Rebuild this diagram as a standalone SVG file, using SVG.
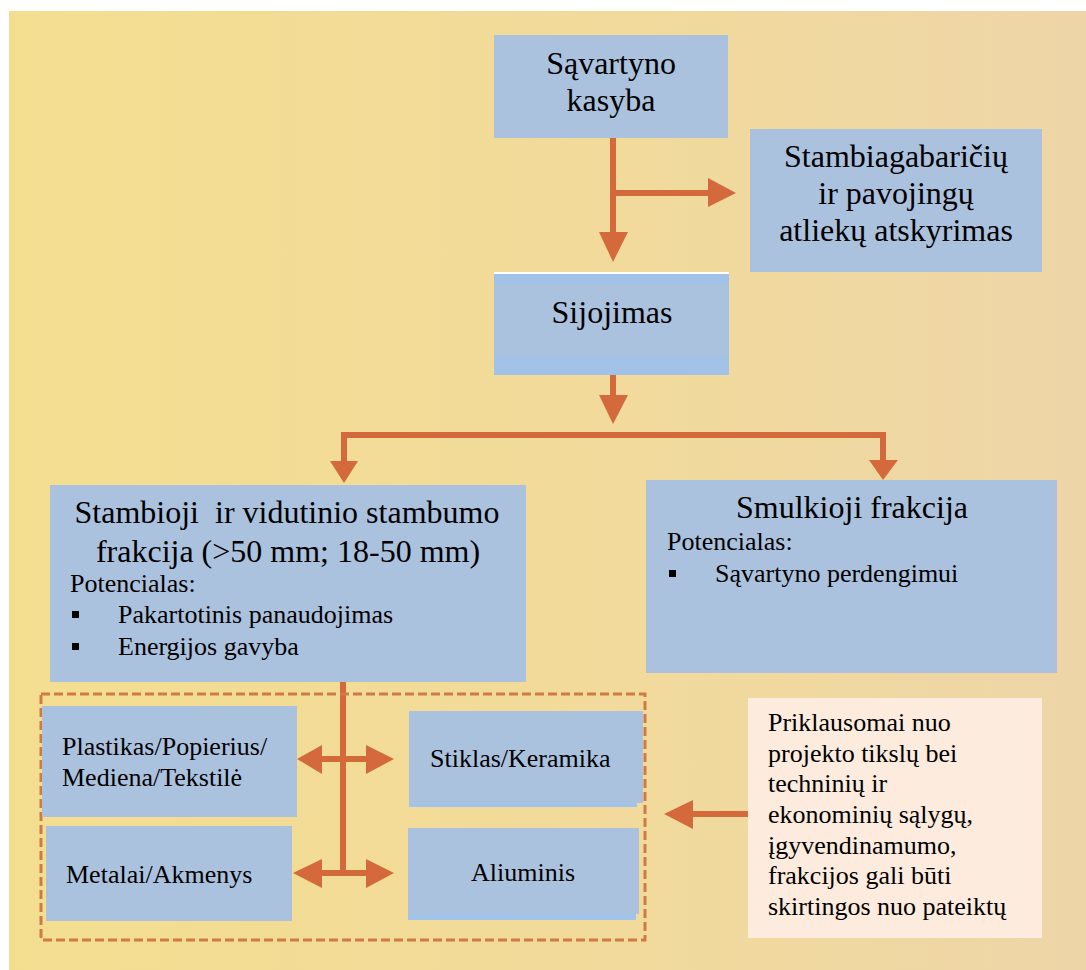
<svg xmlns="http://www.w3.org/2000/svg" width="1086" height="970" viewBox="0 0 1086 970">
<style>
.box{fill:#ABC2DF}
.note{fill:#FDEBDD}
.t{font-family:"Liberation Serif","Times New Roman",serif;fill:#000}
.big{font-size:32px}
.sm{font-size:26px}
.mid{text-anchor:middle}
.ln{stroke:#D46A3C;stroke-width:6;fill:none}
.hd{fill:#D46A3C}
.dash{fill:none;stroke:#D07B45;stroke-width:3;stroke-dasharray:9 4}
</style>
<defs>
<linearGradient id="bg" x1="0" y1="0" x2="1" y2="0">
<stop offset="0" stop-color="#F3DE90"/>
<stop offset="0.6" stop-color="#F1DA9C"/>
<stop offset="1" stop-color="#EED5A8"/>
</linearGradient>
</defs>
<rect x="0" y="0" width="1086" height="970" fill="#FFFFFF"/>
<rect x="9" y="11" width="1077" height="959" fill="url(#bg)"/>

<g id="connectors">
<path class="ln" d="M613 138 V234"/>
<polygon class="hd" points="599,232 628,232 613,262"/>
<path class="ln" d="M613 193 H710"/>
<polygon class="hd" points="708,178 708,207 736,193"/>
<path class="ln" d="M613 375 V397"/>
<polygon class="hd" points="599,395 628,395 613,424"/>
<path class="ln" d="M344 463 V435 H883 V462"/>
<polygon class="hd" points="330,461 358,461 344,483"/>
<polygon class="hd" points="869,460 898,460 883,480"/>
<path class="ln" d="M343 682 V873"/>
<path class="ln" d="M320 759 H368"/>
<polygon class="hd" points="322,745 322,774 297,759"/>
<polygon class="hd" points="366,745 366,774 394,759"/>
<path class="ln" d="M320 873 H368"/>
<polygon class="hd" points="322,859 322,888 293,873"/>
<polygon class="hd" points="366,859 366,888 394,873"/>
<path class="ln" d="M691 814 H748"/>
<polygon class="hd" points="693,800 693,829 664,814"/>
</g>

<rect class="dash" x="41" y="694" width="604" height="246"/>

<g id="n1">
<rect class="box" x="494" y="35" width="234" height="103"/>
<text class="t big mid" x="611" y="74">Sąvartyno</text>
<text class="t big mid" x="611" y="111">kasyba</text>
</g>
<g id="n2">
<rect class="box" x="750" y="129" width="292" height="143"/>
<text class="t big mid" x="896" y="167">Stambiagabaričių</text>
<text class="t big mid" x="896" y="204">ir pavojingų</text>
<text class="t big mid" x="896" y="241">atliekų atskyrimas</text>
</g>
<g id="n3">
<rect x="494" y="272" width="235" height="103" fill="#FFFFFF"/>
<rect x="494" y="274" width="235" height="101" fill="#A2C2E8"/>
<rect class="box" x="494" y="284" width="233" height="73"/>
<text class="t big mid" x="612" y="323">Sijojimas</text>
</g>
<g id="n4">
<rect class="box" x="50" y="485" width="476" height="197"/>
<text class="t big mid" x="287" y="523" xml:space="preserve" style="white-space:pre">Stambioji  ir vidutinio stambumo</text>
<text class="t big mid" x="288" y="562">frakcija (&gt;50 mm; 18-50 mm)</text>
<text class="t sm" x="70" y="592">Potencialas:</text>
<rect x="72" y="611" width="7" height="7" fill="#000"/>
<text class="t sm" x="118" y="623">Pakartotinis panaudojimas</text>
<rect x="72" y="643" width="7" height="7" fill="#000"/>
<text class="t sm" x="118" y="655">Energijos gavyba</text>
</g>
<g id="n5">
<rect class="box" x="646" y="480" width="411" height="193"/>
<text class="t big mid" x="852" y="518">Smulkioji frakcija</text>
<text class="t sm" x="667" y="550">Potencialas:</text>
<rect x="669" y="570" width="7" height="7" fill="#000"/>
<text class="t sm" x="715" y="582">Sąvartyno perdengimui</text>
</g>
<g id="n6">
<rect class="box" x="42" y="706" width="255" height="111"/>
<text class="t sm" x="62" y="755">Plastikas/Popierius/</text>
<text class="t sm" x="62" y="786">Mediena/Tekstilė</text>
</g>
<g id="n7">
<rect x="409" y="711" width="228" height="96" fill="#A2C3EA"/>
<rect class="box" x="409" y="711" width="234" height="92"/>
<text class="t sm" x="430" y="767">Stiklas/Keramika</text>
</g>
<g id="n8">
<rect class="box" x="46" y="826" width="246" height="95"/>
<text class="t sm" x="66" y="883">Metalai/Akmenys</text>
</g>
<g id="n9">
<rect x="408" y="828" width="228" height="92" fill="#A2C3EA"/>
<rect class="box" x="408" y="828" width="231" height="86"/>
<text class="t sm" x="471" y="881">Aliuminis</text>
</g>
<g id="n10">
<rect class="note" x="748" y="698" width="294" height="240"/>
<text class="t sm" x="768" y="731">Priklausomai nuo</text>
<text class="t sm" x="768" y="762">projekto tikslų bei</text>
<text class="t sm" x="768" y="792">techninių ir</text>
<text class="t sm" x="768" y="823">ekonominių sąlygų,</text>
<text class="t sm" x="768" y="854">įgyvendinamumo,</text>
<text class="t sm" x="768" y="884">frakcijos gali būti</text>
<text class="t sm" x="768" y="915">skirtingos nuo pateiktų</text>
</g>
</svg>
